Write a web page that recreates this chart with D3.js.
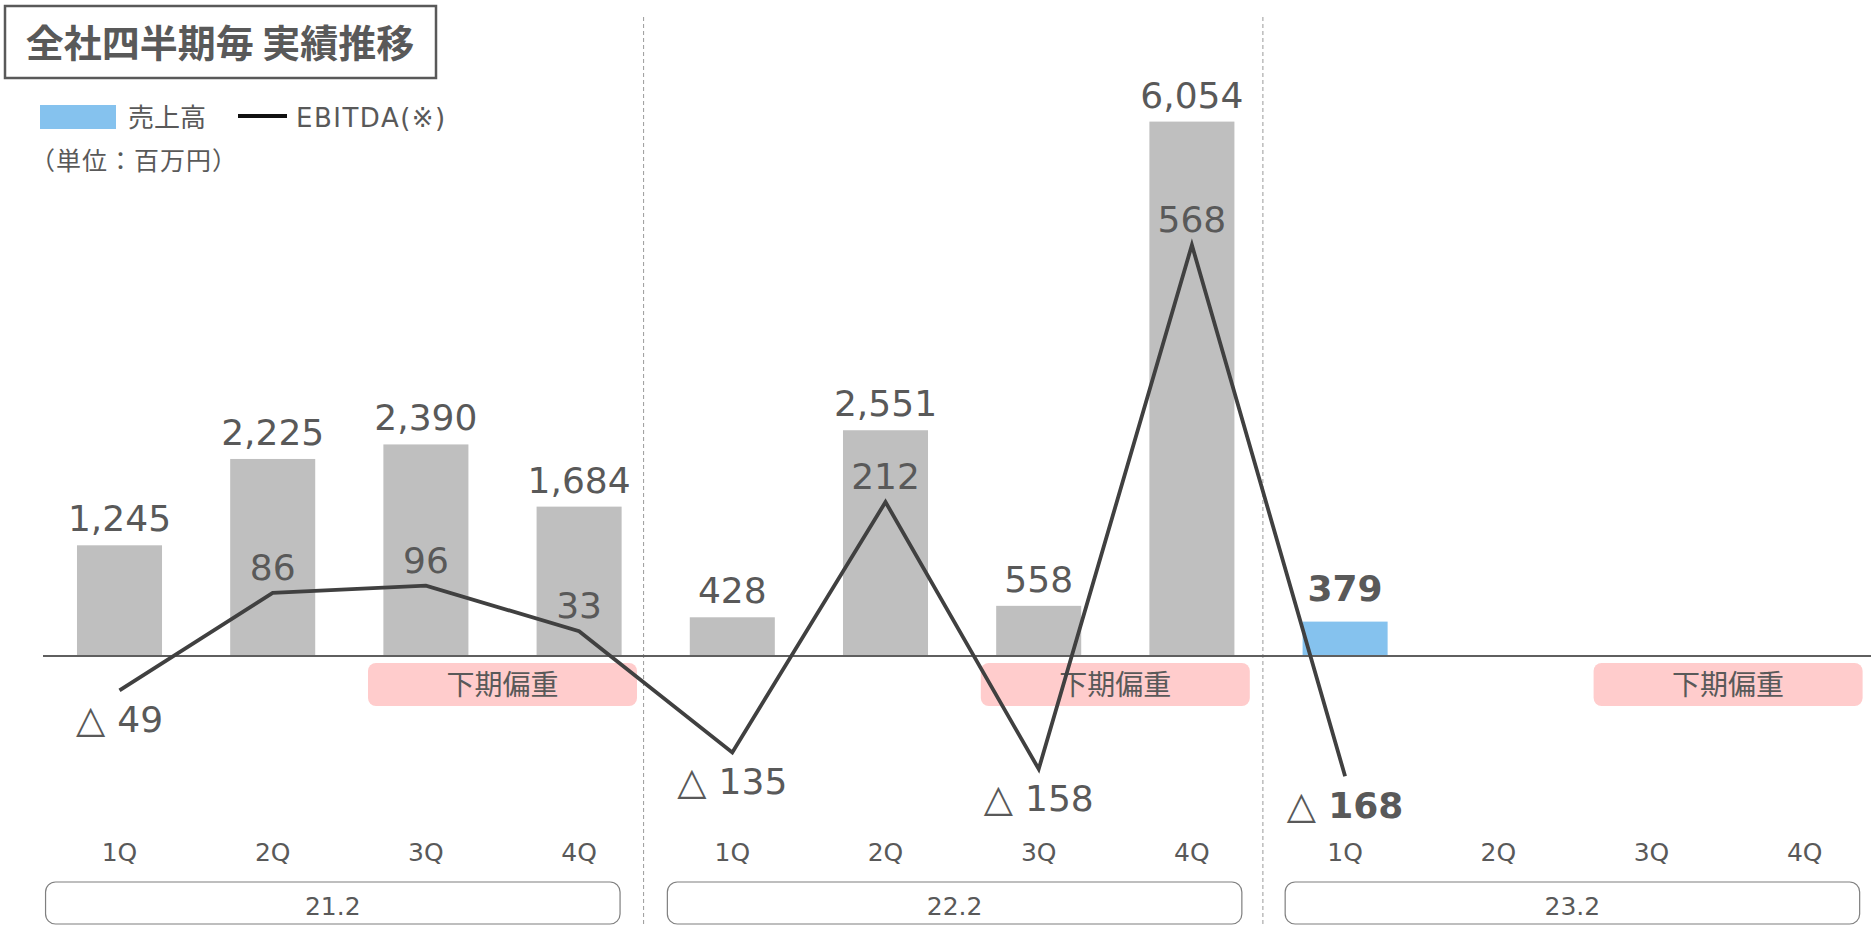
<!DOCTYPE html>
<html>
<head>
<meta charset="utf-8">
<script src="https://cdn.jsdelivr.net/npm/d3@7"></script>
<style>
  html, body { margin: 0; padding: 0; background: #fff; }
  svg { display: block; }
  text { font-family: "DejaVu Sans", "Noto Sans CJK JP", sans-serif; fill: #595959; }
  .jp { font-family: "Noto Sans CJK JP", "DejaVu Sans", sans-serif; }
</style>
</head>
<body>
<svg id="chart" width="1874" height="925"></svg>
<script>
// ---- data ----
const fiscalYears = ["21.2", "22.2", "23.2"];
const quarterLabels = ["1Q", "2Q", "3Q", "4Q"];
const categories = [
  "21.2-1Q", "21.2-2Q", "21.2-3Q", "21.2-4Q",
  "22.2-1Q", "22.2-2Q", "22.2-3Q", "22.2-4Q",
  "23.2-1Q", "23.2-2Q", "23.2-3Q", "23.2-4Q"
];
const sales = [1245, 2225, 2390, 1684, 428, 2551, 558, 6054, 379];
const ebitda = [-49, 86, 96, 33, -135, 212, -158, 568, -168];
const title = "全社四半期毎 実績推移";
const legendSales = "売上高";
const legendEbitda = "EBITDA(※)";
const unitLabel = "（単位：百万円）";
const noteLabel = "下期偏重";

// ---- layout ----
const W = 1874, H = 925;
const svg = d3.select("#chart");
const step = 153.2;
const x0 = 119.5 - step / 2;
const x = d3.scaleBand().domain(categories)
  .range([x0, x0 + categories.length * step])
  .paddingInner(0.445).paddingOuter(0.2225);
const cx = i => x(categories[i]) + x.bandwidth() / 2;
const baseY = 655;
const yBar = d3.scaleLinear().domain([0, 6054]).range([baseY, 121.6]);
const yLine = d3.scaleLinear().domain([0, 568]).range([baseY, 245]);

const barGray = "#BFBFBF";
const barBlue = "#85C2EE";

// title box
svg.append("rect").attr("x", 5).attr("y", 6).attr("width", 431).attr("height", 72)
  .attr("fill", "#fff").attr("stroke", "#595959").attr("stroke-width", 2.5);
svg.append("text").attr("class", "jp").attr("x", 220).attr("y", 57)
  .attr("text-anchor", "middle").attr("font-size", 38).attr("font-weight", "bold")
  .text(title);

// legend
svg.append("rect").attr("x", 40).attr("y", 105).attr("width", 76).attr("height", 24).attr("fill", barBlue);
svg.append("text").attr("class", "jp").attr("x", 128).attr("y", 127).attr("font-size", 26).text(legendSales);
svg.append("line").attr("x1", 238).attr("x2", 287).attr("y1", 116).attr("y2", 116)
  .attr("stroke", "#111").attr("stroke-width", 4);
svg.append("text").attr("x", 296).attr("y", 127).attr("font-size", 26).attr("letter-spacing", 1.5).text(legendEbitda);
svg.append("text").attr("class", "jp").attr("x", 30).attr("y", 170).attr("font-size", 25).attr("letter-spacing", 1).text(unitLabel);

// dashed separators
const sepOffsets = [64.5, 71];
[3, 7].forEach((gi, k) => {
  const sx = cx(gi) + sepOffsets[k];
  svg.append("line").attr("x1", sx).attr("x2", sx).attr("y1", 17).attr("y2", H)
    .attr("stroke", "#9A9A9A").attr("stroke-width", 1).attr("stroke-dasharray", "4,3");
});

// bars
svg.append("g").selectAll("rect").data(sales).join("rect")
  .attr("x", (d, i) => x(categories[i]))
  .attr("width", x.bandwidth())
  .attr("y", d => yBar(d))
  .attr("height", d => baseY - yBar(d))
  .attr("fill", (d, i) => i === sales.length - 1 ? barBlue : barGray);

// pink note boxes (3Q-4Q of each year)
fiscalYears.forEach((fy, g) => {
  const mid = (cx(g * 4 + 2) + cx(g * 4 + 3)) / 2;
  svg.append("rect").attr("x", mid - 134.5).attr("y", 663).attr("width", 269).attr("height", 43)
    .attr("rx", 8).attr("fill", "#FFCCCC");
  svg.append("text").attr("class", "jp").attr("x", mid).attr("y", 695)
    .attr("text-anchor", "middle").attr("font-size", 28).text(noteLabel);
});

// baseline
svg.append("line").attr("x1", 43).attr("x2", 1871).attr("y1", baseY + 1).attr("y2", baseY + 1)
  .attr("stroke", "#5f5f5f").attr("stroke-width", 2);

// EBITDA line
const line = d3.line().x((d, i) => cx(i)).y(d => yLine(d));
svg.append("path").datum(ebitda).attr("d", line)
  .attr("fill", "none").attr("stroke", "#404040").attr("stroke-width", 3.8)
  .attr("stroke-linejoin", "miter");

// bar labels
svg.append("g").selectAll("text").data(sales).join("text")
  .attr("x", (d, i) => cx(i))
  .attr("y", (d, i) => yBar(d) - (i === sales.length - 1 ? 21 : 14))
  .attr("text-anchor", "middle").attr("font-size", 36)
  .attr("font-weight", (d, i) => i === sales.length - 1 ? "bold" : "normal")
  .text(d => d3.format(",")(d));

// EBITDA labels
const lab = svg.append("g");
ebitda.forEach((d, i) => {
  const last = i === ebitda.length - 1;
  if (d >= 0) {
    lab.append("text").attr("x", cx(i)).attr("y", yLine(d) - 13)
      .attr("text-anchor", "middle").attr("font-size", 36).text(d);
  } else {
    const t = lab.append("text").attr("x", cx(i)).attr("y", yLine(d) + 42)
      .attr("text-anchor", "middle").attr("font-size", 36);
    t.append("tspan").attr("font-size", 38).text("△ ");
    t.append("tspan").attr("font-weight", last ? "bold" : "normal").text(Math.abs(d));
  }
});

// quarter labels
svg.append("g").selectAll("text").data(categories).join("text")
  .attr("x", (d, i) => cx(i)).attr("y", 861)
  .attr("text-anchor", "middle").attr("font-size", 25)
  .text((d, i) => quarterLabels[i % 4]);

// fiscal year boxes
const boxNudge = [-5, 4, 9];
fiscalYears.forEach((fy, g) => {
  const left = cx(g * 4) - 0.45 * step + boxNudge[g];
  const width = 3.75 * step;
  svg.append("rect").attr("x", left).attr("y", 882).attr("width", width).attr("height", 42)
    .attr("rx", 10).attr("fill", "#fff").attr("stroke", "#7F7F7F").attr("stroke-width", 1.2);
  svg.append("text").attr("x", left + width / 2).attr("y", 915)
    .attr("text-anchor", "middle").attr("font-size", 25).text(fy);
});
</script>
</body>
</html>
